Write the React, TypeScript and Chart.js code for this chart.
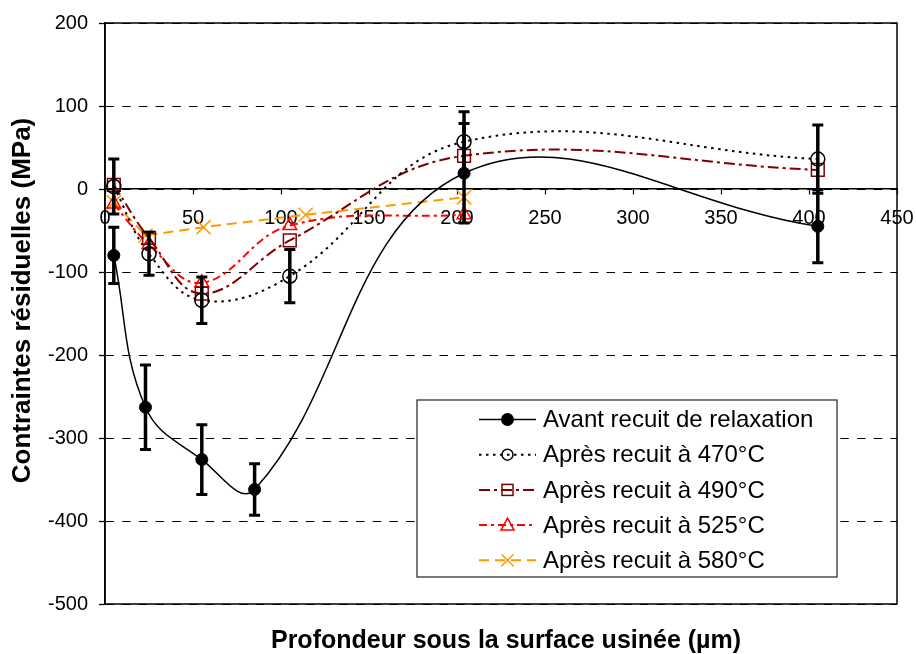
import React, { useEffect, useRef } from "react";
import { Chart, registerables } from "chart.js";
Chart.register(...registerables);

// ---- Data ----
const seriesLabels = [
  "Avant recuit de relaxation",
  "Après recuit à 470°C",
  "Après recuit à 490°C",
  "Après recuit à 525°C",
  "Après recuit à 580°C",
];
const depthAvant = [5, 23, 55, 85, 204, 405];
const stressAvant = [-80, -263, -326, -362, 19, -45];
const errAvant = [34, 51, 42, 31, 60, 44];

const depth470 = [5, 25, 55, 105, 204, 405];
const stress470 = [3, -78, -134, -105, 57, 36];
const err470 = [33, 26, 28, 32, 36, 41];

const depth490 = [5, 25, 55, 105, 204, 405];
const stress490 = [5, -59, -126, -62, 40, 23];

const depth525 = [5, 25, 55, 105, 204];
const stress525 = [-18, -67, -113, -44, -31];

const depth580 = [5, 23, 56, 114, 204];
const stress580 = [-16, -56, -46, -31, -10];

const xMin = 0, xMax = 450, xStep = 50;
const yMin = -500, yMax = 200, yStep = 100;
const xTitle = "Profondeur sous la surface usinée (µm)";
const yTitle = "Contraintes résiduelles (MPa)";

const FONT = "'Liberation Sans', Arial, sans-serif";

const toPts = (xs: number[], ys: number[]) => xs.map((x, i) => ({ x, y: ys[i] }));

const errorSets: { ds: number; errs: number[] }[] = [
  { ds: 0, errs: errAvant },
  { ds: 1, errs: err470 },
];

const errorBarPlugin = {
  id: "errorBars",
  afterDatasetsDraw(chart: any) {
    const ctx = chart.ctx;
    const ys = chart.scales.y;
    ctx.save();
    ctx.strokeStyle = "#000";
    ctx.setLineDash([]);
    errorSets.forEach(({ ds, errs }) => {
      const meta = chart.getDatasetMeta(ds);
      const data = chart.data.datasets[ds].data as any[];
      meta.data.forEach((pt: any, i: number) => {
        const v = data[i].y;
        const top = ys.getPixelForValue(v + errs[i]);
        const bot = ys.getPixelForValue(v - errs[i]);
        const x = pt.x;
        ctx.lineWidth = 3.5;
        ctx.beginPath();
        ctx.moveTo(x, top);
        ctx.lineTo(x, bot);
        ctx.stroke();
        ctx.lineWidth = 3;
        ctx.beginPath();
        ctx.moveTo(x - 5.5, top);
        ctx.lineTo(x + 5.5, top);
        ctx.moveTo(x - 5.5, bot);
        ctx.lineTo(x + 5.5, bot);
        ctx.stroke();
      });
    });
    ctx.restore();
  },
};

const frameAndTitlesPlugin = {
  id: "frameTitles",
  beforeDatasetsDraw(chart: any) {
    const { ctx, chartArea: ca } = chart;
    ctx.save();
    ctx.strokeStyle = "#000";
    ctx.lineWidth = 1.5;
    ctx.setLineDash([]);
    ctx.strokeRect(ca.left, ca.top, ca.right - ca.left, ca.bottom - ca.top);
    ctx.restore();
  },
  afterDraw(chart: any) {
    const { ctx, chartArea: ca } = chart;
    ctx.save();
    ctx.fillStyle = "#000";
    ctx.textAlign = "center";
    ctx.textBaseline = "middle";
    ctx.font = `bold 25px ${FONT}`;
    ctx.fillText(xTitle, (ca.left + ca.right) / 2 + 5, chart.height - 13);
    ctx.font = `bold 26px ${FONT}`;
    ctx.translate(23, (ca.top + ca.bottom) / 2 - 13);
    ctx.rotate(-Math.PI / 2);
    ctx.fillText(yTitle, 0, 0);
    ctx.restore();
  },
};

function drawMarker(ctx: CanvasRenderingContext2D, style: string, x: number, y: number, color: string, filled: boolean) {
  ctx.save();
  ctx.setLineDash([]);
  ctx.strokeStyle = color;
  ctx.fillStyle = color;
  ctx.lineWidth = 1.5;
  ctx.beginPath();
  if (style === "circle") {
    ctx.arc(x, y, filled ? 6.5 : 5.5, 0, Math.PI * 2);
    if (filled) ctx.fill();
    else ctx.stroke();
  } else if (style === "rect") {
    ctx.strokeRect(x - 5.5, y - 5.5, 11, 11);
  } else if (style === "triangle") {
    ctx.moveTo(x, y - 7);
    ctx.lineTo(x + 6.5, y + 5);
    ctx.lineTo(x - 6.5, y + 5);
    ctx.closePath();
    ctx.stroke();
  } else if (style === "crossRot") {
    ctx.moveTo(x - 6, y - 6);
    ctx.lineTo(x + 6, y + 6);
    ctx.moveTo(x + 6, y - 6);
    ctx.lineTo(x - 6, y + 6);
    ctx.stroke();
  }
  ctx.restore();
}

const boxLegendPlugin = {
  id: "boxLegend",
  afterDraw(chart: any) {
    const { ctx, chartArea: ca } = chart;
    const left = ca.left + 312;
    const top = ca.top + 377;
    const w = 420;
    const h = 177;
    ctx.save();
    ctx.fillStyle = "#fff";
    ctx.fillRect(left, top, w, h);
    ctx.strokeStyle = "#333";
    ctx.lineWidth = 1.3;
    ctx.setLineDash([]);
    ctx.strokeRect(left, top, w, h);
    chart.data.datasets.forEach((ds: any, i: number) => {
      const cy = top + 19.5 + i * 35.2;
      const x1 = left + 62;
      const x2 = left + 119;
      const mx = (x1 + x2) / 2;
      ctx.save();
      ctx.strokeStyle = ds.borderColor;
      ctx.lineWidth = ds.borderWidth;
      ctx.setLineDash(ds.borderDash || []);
      ctx.beginPath();
      ctx.moveTo(x1, cy);
      ctx.lineTo(x2, cy);
      ctx.stroke();
      ctx.restore();
      drawMarker(ctx, ds.pointStyle, mx, cy, ds.pointBorderColor, i === 0);
      ctx.fillStyle = "#000";
      ctx.font = `24px ${FONT}`;
      ctx.textAlign = "left";
      ctx.textBaseline = "middle";
      ctx.fillText(ds.label, left + 126, cy + 1);
    });
    ctx.restore();
  },
};

export default function App() {
  const ref = useRef<HTMLCanvasElement | null>(null);
  useEffect(() => {
    if (!ref.current) return;
    Chart.defaults.font.family = FONT;
    const chart = new Chart(ref.current, {
      type: "line",
      data: {
        datasets: [
          {
            label: seriesLabels[0],
            data: toPts(depthAvant, stressAvant),
            borderColor: "#000",
            borderWidth: 1.5,
            tension: 0.4,
            pointStyle: "circle",
            pointRadius: 6,
            pointBackgroundColor: "#000",
            pointBorderColor: "#000",
            pointBorderWidth: 1,
          },
          {
            label: seriesLabels[1],
            data: toPts(depth470, stress470),
            borderColor: "#000",
            borderWidth: 2,
            borderDash: [2.5, 4.5],
            tension: 0.4,
            pointStyle: "circle",
            pointRadius: 7,
            pointBackgroundColor: "rgba(0,0,0,0)",
            pointBorderColor: "#000",
            pointBorderWidth: 1.5,
          },
          {
            label: seriesLabels[2],
            data: toPts(depth490, stress490),
            borderColor: "#800000",
            borderWidth: 2,
            borderDash: [11, 4, 3, 4],
            tension: 0.4,
            pointStyle: "rect",
            pointRadius: 9,
            pointBackgroundColor: "rgba(0,0,0,0)",
            pointBorderColor: "#800000",
            pointBorderWidth: 1.5,
          },
          {
            label: seriesLabels[3],
            data: toPts(depth525, stress525),
            borderColor: "#FF0000",
            borderWidth: 2,
            borderDash: [8, 4, 3, 4],
            tension: 0.4,
            pointStyle: "triangle",
            pointRadius: 8,
            pointBackgroundColor: "rgba(0,0,0,0)",
            pointBorderColor: "#FF0000",
            pointBorderWidth: 1.5,
          },
          {
            label: seriesLabels[4],
            data: toPts(depth580, stress580),
            borderColor: "#FF9900",
            borderWidth: 2,
            borderDash: [10, 6],
            tension: 0,
            pointStyle: "crossRot",
            pointRadius: 10,
            pointBackgroundColor: "rgba(0,0,0,0)",
            pointBorderColor: "#FF9900",
            pointBorderWidth: 1.5,
          },
        ] as any,
      },
      options: {
        animation: false,
        responsive: true,
        maintainAspectRatio: false,
        events: [],
        layout: { padding: { left: 0, right: 19, top: 23, bottom: 50 } },
        plugins: {
          legend: { display: false },
          tooltip: { enabled: false },
          title: { display: false },
        },
        scales: {
          y: {
            type: "linear",
            min: yMin,
            max: yMax,
            ticks: {
              stepSize: yStep,
              color: "#000",
              font: { size: 20, family: FONT },
              padding: 11,
            },
            grid: {
              color: "#000",
              lineWidth: 1,
              drawTicks: true,
              tickLength: 6,
              tickColor: "#000",
              tickWidth: 1.3,
              tickBorderDash: [],
            },
            border: { display: true, color: "#000", width: 1.5, dash: [8.5, 8.2] },
            afterFit: (s: any) => {
              s.width = 105;
              s.paddingTop = 0;
              s.paddingBottom = 0;
            },
          },
          x: {
            type: "linear",
            min: xMin,
            max: xMax,
            position: { y: 0 },
            ticks: {
              stepSize: xStep,
              color: "#000",
              font: { size: 20, family: FONT },
              padding: 12,
              maxRotation: 0,
              autoSkip: false,
            },
            grid: {
              display: true,
              drawOnChartArea: false,
              drawTicks: true,
              tickLength: 5,
              tickColor: "#000",
              tickWidth: 1.2,
            },
            border: { display: true, color: "#000", width: 1.5 },
            afterFit: (s: any) => {
              s.paddingLeft = 0;
              s.paddingRight = 0;
            },
          },
        } as any,
      },
      plugins: [frameAndTitlesPlugin, errorBarPlugin, boxLegendPlugin],
    });
    return () => chart.destroy();
  }, []);
  return (
    <div style={{ position: "fixed", left: 0, top: 0, width: 916, height: 654, background: "#fff" }}>
      <canvas ref={ref} />
    </div>
  );
}
